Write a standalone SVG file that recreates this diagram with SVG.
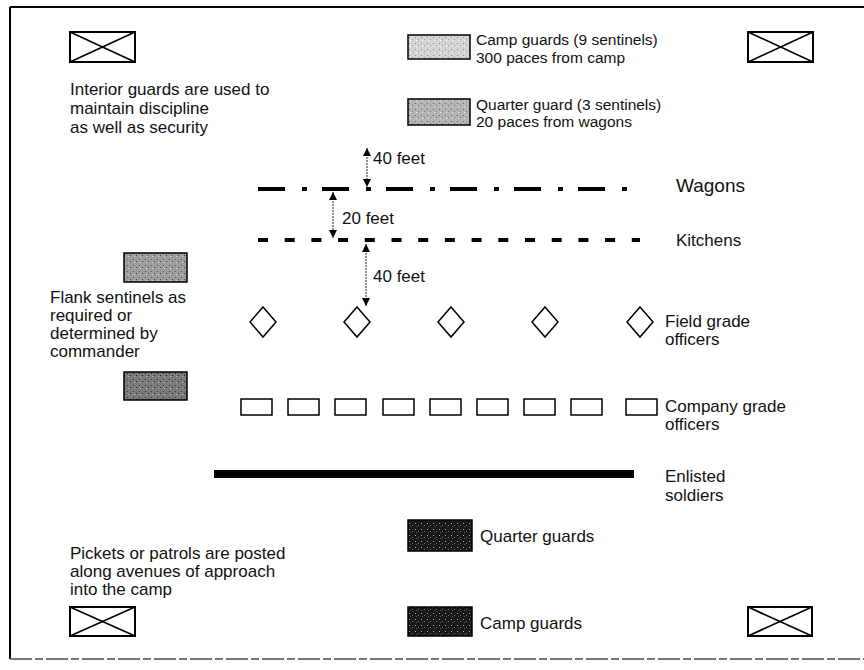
<svg xmlns="http://www.w3.org/2000/svg" width="864" height="670" viewBox="0 0 864 670">
<defs>
<style>
text{font-family:"Liberation Sans",Arial,sans-serif;font-size:17px;fill:#111}
.lg{font-size:15.5px}
.xbox rect{fill:#fff;stroke:#000;stroke-width:2}
.xbox line{stroke:#000;stroke-width:1.6}
.dia{fill:#fff;stroke:#000;stroke-width:1.5}
.co{fill:#fff;stroke:#000;stroke-width:1.5}
.sw{stroke:#000;stroke-width:1.5}
.arr{stroke:#222;stroke-width:1;stroke-dasharray:2 1;marker-start:url(#ah);marker-end:url(#ah)}
</style>
<marker id="ah" viewBox="0 0 10 10" refX="10" refY="5" markerWidth="8" markerHeight="8" markerUnits="userSpaceOnUse" orient="auto-start-reverse">
<path d="M0,0 L10,5 L0,10 z" fill="#000"/>
</marker>
<pattern id="p1" width="6" height="6" patternUnits="userSpaceOnUse">
<rect width="6" height="6" fill="#d4d4d4"/><rect x="1" y="1" width="1" height="1" fill="#888"/><rect x="4" y="3" width="1" height="1" fill="#999"/><rect x="2" y="4" width="1" height="1" fill="#fff"/>
</pattern>
<pattern id="p2" width="6" height="6" patternUnits="userSpaceOnUse">
<rect width="6" height="6" fill="#b4b4b4"/><rect x="1" y="1" width="1" height="1" fill="#666"/><rect x="4" y="3" width="1" height="1" fill="#777"/><rect x="2" y="4" width="1" height="1" fill="#eee"/>
</pattern>
<pattern id="p3" width="6" height="6" patternUnits="userSpaceOnUse">
<rect width="6" height="6" fill="#9c9c9c"/><rect x="1" y="1" width="1" height="1" fill="#555"/><rect x="4" y="3" width="1" height="1" fill="#444"/><rect x="2" y="4" width="1" height="1" fill="#ddd"/>
</pattern>
<pattern id="p4" width="6" height="6" patternUnits="userSpaceOnUse">
<rect width="6" height="6" fill="#7a7a7a"/><rect x="1" y="1" width="1" height="1" fill="#333"/><rect x="4" y="3" width="1" height="1" fill="#222"/><rect x="2" y="4" width="1" height="1" fill="#bbb"/>
</pattern>
<pattern id="p5" width="6" height="6" patternUnits="userSpaceOnUse">
<rect width="6" height="6" fill="#181818"/><rect x="1" y="1" width="1" height="1" fill="#aaa"/><rect x="4" y="3" width="1" height="1" fill="#777"/><rect x="2" y="4" width="1" height="1" fill="#555"/>
</pattern>
</defs>
<rect width="864" height="670" fill="#fff"/>
<g id="frame">
<line x1="10" y1="7" x2="864" y2="7" stroke="#000" stroke-width="2"/>
<line x1="10" y1="7" x2="10" y2="659" stroke="#000" stroke-width="2"/>
<line x1="10" y1="659" x2="864" y2="659" stroke="#777" stroke-width="2" stroke-dasharray="22 3 8 3"/>
</g>
<g id="xbox-tl" class="xbox"><rect x="70" y="32" width="65" height="30"/><line x1="70" y1="32" x2="135" y2="62"/><line x1="70" y1="62" x2="135" y2="32"/></g>
<g id="xbox-tr" class="xbox"><rect x="748" y="32" width="65" height="30"/><line x1="748" y1="32" x2="813" y2="62"/><line x1="748" y1="62" x2="813" y2="32"/></g>
<g id="xbox-bl" class="xbox"><rect x="70" y="607" width="65" height="29"/><line x1="70" y1="607" x2="135" y2="636"/><line x1="70" y1="636" x2="135" y2="607"/></g>
<g id="xbox-br" class="xbox"><rect x="748" y="607" width="64" height="29"/><line x1="748" y1="607" x2="812" y2="636"/><line x1="748" y1="636" x2="812" y2="607"/></g>
<g id="interior-note"><text x="70" y="95">Interior guards are used to</text><text x="70" y="114">maintain discipline</text><text x="70" y="133">as well as security</text></g>
<g id="legend-camp"><rect class="sw" x="408" y="35" width="62" height="24" fill="url(#p1)"/><text class="lg" x="476" y="45">Camp guards (9 sentinels)</text><text class="lg" x="476" y="62.5">300 paces from camp</text></g>
<g id="legend-quarter"><rect class="sw" x="408" y="99" width="62" height="26" fill="url(#p2)"/><text class="lg" x="476" y="109.5">Quarter guard (3 sentinels)</text><text class="lg" x="476" y="127">20 paces from wagons</text></g>
<g id="wagons"><line x1="258" y1="189" x2="630" y2="189" stroke="#000" stroke-width="4" stroke-dasharray="27 17 5 15"/><text x="676" y="192" style="font-size:19px">Wagons</text></g>
<g id="kitchens"><line x1="258" y1="240" x2="640" y2="240" stroke="#000" stroke-width="4" stroke-dasharray="10 16.7"/><text x="676" y="246">Kitchens</text></g>
<g id="connectors">
<line class="arr" x1="367" y1="148" x2="367" y2="187"/>
<line class="arr" x1="333" y1="192" x2="333" y2="238"/>
<line class="arr" x1="366" y1="244" x2="366" y2="306"/>
</g>
<g id="dim-labels"><text x="373" y="164">40 feet</text><text x="342" y="224">20 feet</text><text x="373" y="282">40 feet</text></g>
<g id="field-grade">
<path class="dia" d="M263,307 L276,322 L263,337 L250,322 Z"/>
<path class="dia" d="M357,307 L370,322 L357,337 L344,322 Z"/>
<path class="dia" d="M451,307 L464,322 L451,337 L438,322 Z"/>
<path class="dia" d="M545,307 L558,322 L545,337 L532,322 Z"/>
<path class="dia" d="M640,307 L653,322 L640,337 L627,322 Z"/>
<text x="665" y="327">Field grade</text><text x="665" y="345">officers</text>
</g>
<g id="company-grade">
<rect class="co" x="241" y="399" width="31" height="16"/>
<rect class="co" x="288" y="399" width="31" height="16"/>
<rect class="co" x="335" y="399" width="31" height="16"/>
<rect class="co" x="383" y="399" width="31" height="16"/>
<rect class="co" x="430" y="399" width="31" height="16"/>
<rect class="co" x="477" y="399" width="31" height="16"/>
<rect class="co" x="524" y="399" width="31" height="16"/>
<rect class="co" x="571" y="399" width="31" height="16"/>
<rect class="co" x="626" y="399" width="31" height="16"/>
<text x="665" y="412">Company grade</text><text x="665" y="430">officers</text>
</g>
<g id="enlisted"><rect x="214" y="470" width="420" height="8" fill="#000"/><text x="665" y="482">Enlisted</text><text x="665" y="501">soldiers</text></g>
<g id="flank"><rect class="sw" x="124" y="253" width="63" height="29" fill="url(#p3)"/><text x="50" y="303">Flank sentinels as</text><text x="50" y="321">required or</text><text x="50" y="339">determined by</text><text x="50" y="357">commander</text><rect class="sw" x="124" y="372" width="63" height="28" fill="url(#p4)"/></g>
<g id="legend-quarter-guards"><rect class="sw" x="408" y="520" width="64" height="31" fill="url(#p5)"/><text x="480" y="542">Quarter guards</text></g>
<g id="legend-camp-guards"><rect class="sw" x="408" y="607" width="64" height="29" fill="url(#p5)"/><text x="480" y="629">Camp guards</text></g>
<g id="pickets-note"><text x="70" y="559">Pickets or patrols are posted</text><text x="70" y="577">along avenues of approach</text><text x="70" y="595">into the camp</text></g>
</svg>
